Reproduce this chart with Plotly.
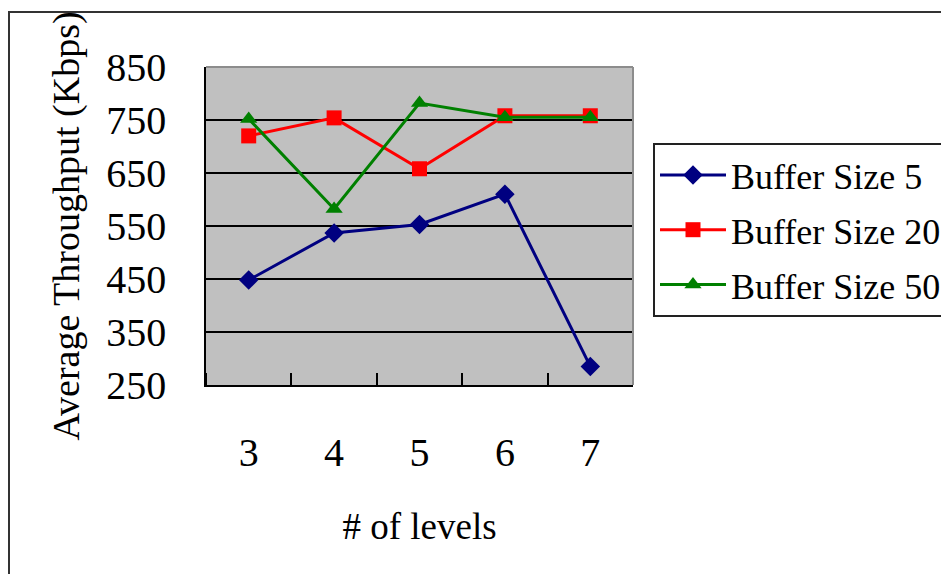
import plotly.graph_objects as go

levels = [3, 4, 5, 6, 7]
buf5 = [448, 537, 553, 610, 285]
buf20 = [720, 754, 658, 758, 758]
buf50 = [752, 582, 782, 755, 755]
names = ["Buffer Size 5", "Buffer Size 20", "Buffer Size 50"]
y_ticks = [250, 350, 450, 550, 650, 750, 850]

FONT = "Liberation Serif, Times New Roman, serif"

fig = go.Figure()
specs = [
    (buf5, names[0], "#000080", "diamond", 15),
    (buf20, names[1], "#FF0000", "square", 15),
    (buf50, names[2], "#008000", "triangle-up", 15),
]
for i, (vals, nm, col, sym, sz) in enumerate(specs):
    fig.add_trace(go.Scatter(
        x=levels, y=vals, name=nm, mode="lines+markers",
        legendgroup=f"g{i}",
        line=dict(color=col, width=3),
        marker=dict(symbol=sym, size=sz, color=col, line=dict(width=0)),
    ))

# page body adds an 8px offset; compensate in margins
OFF = 8
W, H = 949, 574
PL, PT, PR, PB = 206, 67, 633, 385  # target plot-area pixel box (page coords)
L = PL - OFF
T = PT - OFF
pw, ph = PR - PL, PB - PT
R = W - L - pw
B = H - T - ph

def px2x(px):
    return (px - PL) / pw

def py2y(py):
    return (PB - py) / ph

fig.update_layout(
    width=W, height=H,
    margin=dict(l=L, r=R, t=T, b=B, autoexpand=False),
    paper_bgcolor="white",
    plot_bgcolor="#C0C0C0",
    font=dict(family=FONT, color="black"),
    showlegend=True,
    legend=dict(
        x=px2x(653), y=py2y(143), xanchor="left", yanchor="top",
        bgcolor="white", bordercolor="#222222", borderwidth=2,
        font=dict(family=FONT, size=36, color="black"),
        tracegroupgap=5, itemwidth=66,
    ),
    xaxis=dict(
        range=[2.5, 7.5], tickvals=levels, ticktext=[str(v) for v in levels],
        ticks="", showgrid=False, zeroline=False,
        showline=True, linecolor="black", linewidth=1.5,
        tickfont=dict(family=FONT, size=40, color="black"),
        ticklabelstandoff=31,
        minor=dict(tickmode="array", tickvals=[2.5, 3.5, 4.5, 5.5, 6.5, 7.5],
                   ticks="inside", ticklen=12, tickcolor="black", tickwidth=1.5,
                   showgrid=False),
        title=dict(text="# of levels", font=dict(family=FONT, size=37, color="black"),
                   standoff=39),
    ),
    yaxis=dict(
        range=[250, 850], tickvals=y_ticks, ticktext=[str(v) for v in y_ticks],
        ticks="inside", ticklen=12, tickcolor="black", tickwidth=1.5,
        showgrid=True, gridcolor="black", gridwidth=1.5, zeroline=False,
        showline=True, linecolor="black", linewidth=1.5,
        tickfont=dict(family=FONT, size=40, color="black"),
        ticklabelstandoff=30,
        title=dict(text="Average Throughput (Kbps)",
                   font=dict(family=FONT, size=38, color="black"), standoff=15),
    ),
    shapes=[
        dict(type="line", xref="paper", yref="paper", x0=0, x1=1, y0=1, y1=1,
             line=dict(color="#8C8C8C", width=2)),
        dict(type="line", xref="paper", yref="paper", x0=1, x1=1, y0=0, y1=1,
             line=dict(color="#8C8C8C", width=2)),
        dict(type="rect", xref="paper", yref="paper",
             x0=px2x(OFF + 1), x1=px2x(W + 30), y0=py2y(12), y1=py2y(H + 30),
             line=dict(color="#333333", width=2), fillcolor="rgba(0,0,0,0)"),
    ],
)

fig.write_html("out.html")
